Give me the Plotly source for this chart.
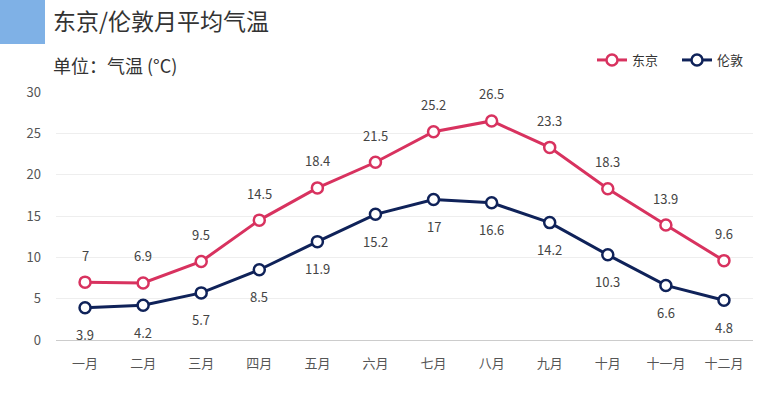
import plotly.graph_objects as go

months = ["一月", "二月", "三月", "四月", "五月", "六月", "七月", "八月", "九月", "十月", "十一月", "十二月"]
tokyo = [7, 6.9, 9.5, 14.5, 18.4, 21.5, 25.2, 26.5, 23.3, 18.3, 13.9, 9.6]
london = [3.9, 4.2, 5.7, 8.5, 11.9, 15.2, 17, 16.6, 14.2, 10.3, 6.6, 4.8]
y_ticks = [0, 5, 10, 15, 20, 25, 30]

FONT = "Noto Sans CJK SC"
C_TOKYO = "#d8325f"
C_LONDON = "#0f2259"

L, R, T, B = 56, 29, 92, 55
W, H = 782, 395
pw, ph = W - L - R, H - T - B

fig = go.Figure()
for name, vals, color in [("东京", tokyo, C_TOKYO), ("伦敦", london, C_LONDON)]:
    fig.add_trace(go.Scatter(
        x=months, y=vals, name=name, mode="lines+markers",
        line=dict(color=color, width=3),
        marker=dict(symbol="circle", size=11, color="white", line=dict(color=color, width=2.5)),
        hoverinfo="x+y+name",
    ))

annotations = []
for m, v in zip(months, tokyo):
    annotations.append(dict(x=m, y=v, xref="x", yref="y", text=f"{v:g}", showarrow=False,
                            yshift=27, font=dict(family=FONT, size=13, color="#444")))
for m, v in zip(months, london):
    annotations.append(dict(x=m, y=v, xref="x", yref="y", text=f"{v:g}", showarrow=False,
                            yshift=-27, font=dict(family=FONT, size=13, color="#444")))


def px_x(px):
    return (px - L) / pw


def px_y(py):
    return 1 + (T - py) / ph


annotations.append(dict(x=px_x(51), y=px_y(20), xref="paper", yref="paper", text="东京/伦敦月平均气温",
                        showarrow=False, xanchor="left", yanchor="middle",
                        font=dict(family=FONT, size=23, color="#333")))
annotations.append(dict(x=px_x(51), y=px_y(65), xref="paper", yref="paper", text="单位：气温 (°C)",
                        showarrow=False, xanchor="left", yanchor="middle",
                        font=dict(family=FONT, size=18, color="#333")))

fig.update_layout(
    width=W, height=H,
    margin=dict(l=L, r=R, t=T, b=B, autoexpand=False),
    paper_bgcolor="white", plot_bgcolor="white",
    font=dict(family=FONT, size=13, color="#555"),
    showlegend=True,
    legend=dict(orientation="h", x=px_x(592), xanchor="left", y=px_y(60), yanchor="middle",
                font=dict(family=FONT, size=13, color="#333"), itemwidth=30,
                entrywidth=40, entrywidthmode="pixels",
                bgcolor="rgba(0,0,0,0)"),
    xaxis=dict(type="category", range=[-0.5, 11.5], showgrid=False, showline=True,
               linecolor="#cccccc", linewidth=1, ticks="", tickfont=dict(size=13, color="#555"),
               ticklabelstandoff=11, fixedrange=True),
    yaxis=dict(range=[0, 30], tickvals=y_ticks, showgrid=True, gridcolor="#eeeeee",
               zeroline=False, showline=False, ticks="", ticklen=0, ticklabelstandoff=14,
               tickfont=dict(size=13, color="#555"), fixedrange=True),
    annotations=annotations,
    shapes=[dict(type="rect", xref="paper", yref="paper",
                 x0=px_x(0), x1=px_x(45), y0=px_y(44), y1=px_y(0),
                 fillcolor="#7fb1e6", line=dict(width=0), layer="above")],
)

fig.write_html("out.html", config={"displayModeBar": False},
               post_script="document.body.style.margin='0';")
